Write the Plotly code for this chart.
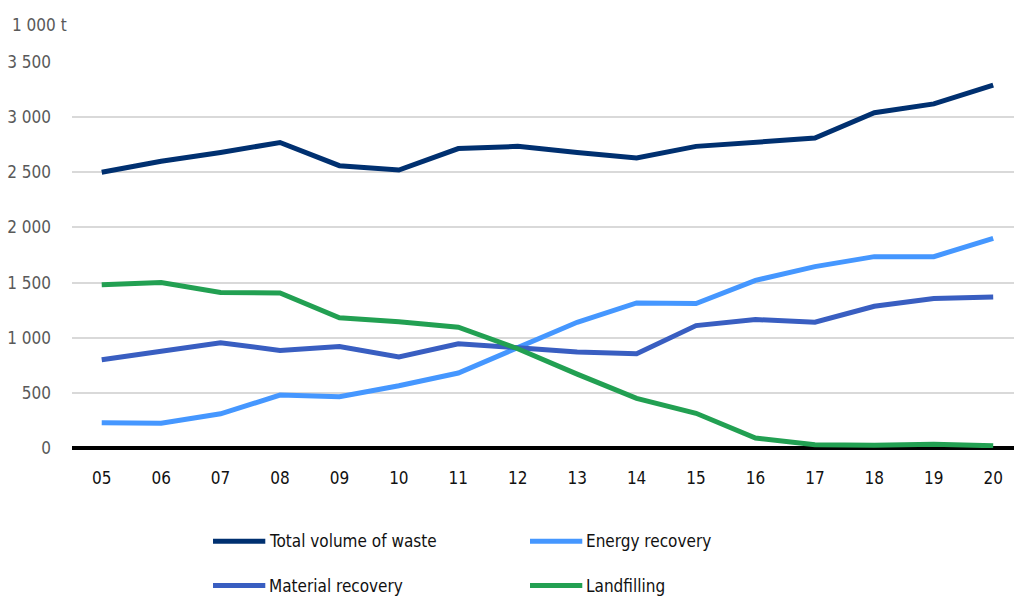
import plotly.graph_objects as go

# Years (two-digit labels) and waste volumes in thousand tonnes
years = ["05", "06", "07", "08", "09", "10", "11", "12", "13", "14", "15", "16", "17", "18", "19", "20"]

total_waste = [2500, 2600, 2680, 2770, 2560, 2520, 2715, 2735, 2680, 2630, 2735, 2770, 2810, 3040, 3120, 3290]
energy_recovery = [230, 225, 310, 480, 465, 565, 680, 915, 1140, 1315, 1310, 1520, 1645, 1735, 1735, 1900]
material_recovery = [800, 875, 955, 885, 920, 825, 945, 910, 870, 855, 1110, 1165, 1140, 1285, 1355, 1370]
landfilling = [1480, 1500, 1410, 1405, 1180, 1145, 1095, 900, 670, 450, 315, 90, 30, 25, 35, 20]

y_tick_values = [0, 500, 1000, 1500, 2000, 2500, 3000, 3500]
y_tick_labels = ["0", "500", "1 000", "1 500", "2 000", "2 500", "3 000", "3 500"]

series = [
    ("Total volume of waste", total_waste, "#003070"),
    ("Energy recovery", energy_recovery, "#4597FF"),
    ("Material recovery", material_recovery, "#395EC1"),
    ("Landfilling", landfilling, "#22A052"),
]

FONT = "DejaVu Sans Condensed, Roboto, sans-serif"
FS = 17

fig = go.Figure()
for name, values, color in series:
    fig.add_trace(go.Scatter(
        x=years, y=values, name=name, mode="lines",
        line=dict(color=color, width=5),
        showlegend=False,
    ))

# Two-column legend below the plot area
legend_cols = [0.1497, 0.4862]
legend_rows = [-0.2418, -0.3565]
swatch_len = 0.0555
shapes = []
annotations = []
for i, (name, _, color) in enumerate(series):
    cx = legend_cols[i % 2]
    ry = legend_rows[i // 2]
    shapes.append(dict(
        type="line", xref="paper", yref="paper",
        x0=cx, x1=cx + swatch_len, y0=ry, y1=ry,
        line=dict(color=color, width=5),
    ))
    annotations.append(dict(
        xref="paper", yref="paper", x=cx + swatch_len + 0.002, y=ry,
        xanchor="left", yanchor="middle", showarrow=False,
        text=name, font=dict(family=FONT, size=FS, color="#111111"),
    ))

# Unit label above the value axis
annotations.append(dict(
    xref="paper", yref="paper", x=-0.066, y=1.095,
    xanchor="left", yanchor="middle", showarrow=False,
    text="1 000 t", font=dict(family=FONT, size=FS, color="#595959"),
))

fig.update_layout(
    width=1014, height=599,
    margin=dict(l=72, r=0, t=62, b=151),
    paper_bgcolor="white", plot_bgcolor="white",
    font=dict(family=FONT, size=FS, color="#595959"),
    shapes=shapes,
    annotations=annotations,
    xaxis=dict(
        type="category", range=[-0.5, 15.35],
        showgrid=False, zeroline=False, showline=False,
        ticks="", ticklabelstandoff=18,
        tickfont=dict(family=FONT, size=FS, color="#111111"),
    ),
    yaxis=dict(
        range=[0, 3500],
        tickvals=y_tick_values, ticktext=y_tick_labels,
        showgrid=True, gridcolor="#D9D9D9", gridwidth=1.5,
        zeroline=True, zerolinecolor="#000000", zerolinewidth=4,
        showline=False, ticks="", ticklabelstandoff=20,
        tickfont=dict(family=FONT, size=FS, color="#595959"),
    ),
)

fig.write_html("out.html")
